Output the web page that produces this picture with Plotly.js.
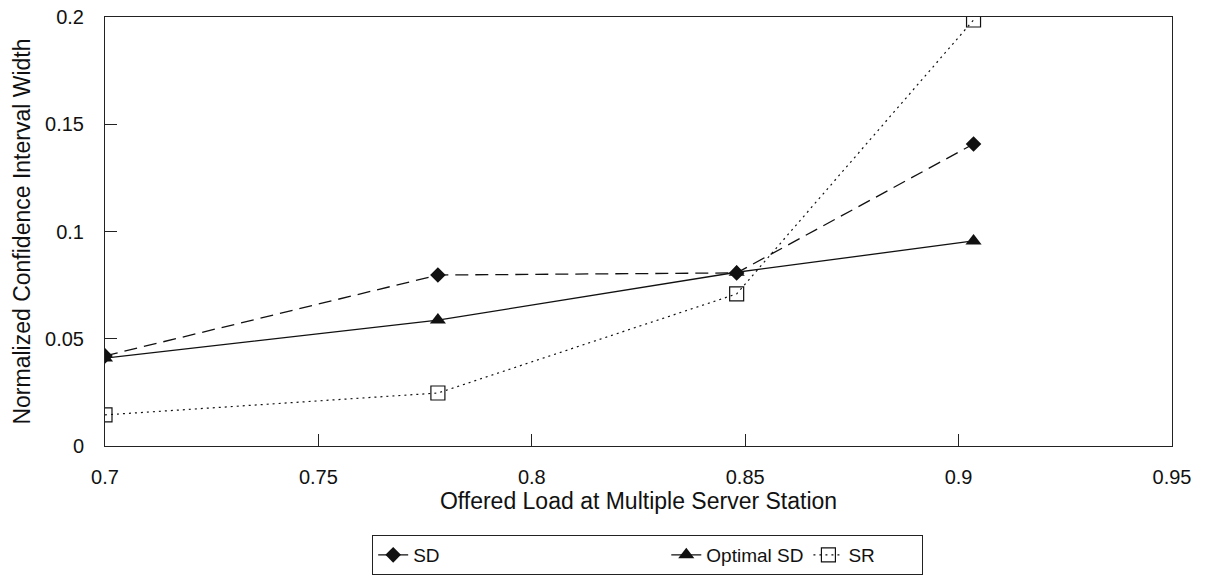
<!DOCTYPE html>
<html>
<head>
<meta charset="utf-8">
<script src="https://cdn.plot.ly/plotly-3.0.1.min.js"></script>
<style>html,body{margin:0;padding:0;background:#fff;}#chart{width:1205px;height:582px;}</style>
</head>
<body>
<div id="chart"></div>
<script>
const offeredLoad = [0.7, 0.778, 0.848, 0.9035];
const sdValues = [0.042, 0.0797, 0.0807, 0.1408];
const optimalSdValues = [0.041, 0.0587, 0.081, 0.0956];
const srValues = [0.0145, 0.0247, 0.0709, 0.1986];
const seriesNames = ["SD", "Optimal SD", "SR"];
const xTicks = [0.7, 0.75, 0.8, 0.85, 0.9, 0.95];
const yTicks = [0, 0.05, 0.1, 0.15, 0.2];

const traces = [
  {x: offeredLoad, y: sdValues, name: seriesNames[0] + "\u00a0".repeat(42), mode: "lines+markers",
   line: {color: "#111", width: 1.3, dash: "13px,7px"},
   marker: {symbol: "diamond", size: 12, color: "#111"}},
  {x: offeredLoad, y: optimalSdValues, name: seriesNames[1], mode: "lines+markers",
   line: {color: "#111", width: 1.3},
   marker: {symbol: "triangle-up", size: 14, color: "#111"}},
  {x: offeredLoad, y: srValues, name: seriesNames[2] + "\u00a0".repeat(8), mode: "lines+markers",
   line: {color: "#111", width: 1.2, dash: "2px,4px"},
   marker: {symbol: "square-open", size: 14, color: "#111", line: {width: 1.2, color: "#111"}}}
];

const layout = {
  width: 1205, height: 582,
  margin: {l: 105, r: 33, t: 17, b: 136, autoexpand: false},
  paper_bgcolor: "#fff", plot_bgcolor: "#fff",
  font: {family: "Liberation Sans, Arial, sans-serif", color: "#111", size: 20},
  showlegend: true,
  legend: {orientation: "h", x: 0.2504, xanchor: "left", y: -0.2075, yanchor: "top",
           bordercolor: "#222", borderwidth: 1, bgcolor: "#fff",
           font: {size: 19}, itemwidth: 30, tracegroupgap: 0},
  xaxis: {range: [0.7, 0.95], tickvals: xTicks, ticks: "inside", ticklen: 12, tickcolor: "#222",
          showline: true, linecolor: "#222", linewidth: 1, mirror: true, showgrid: false, zeroline: false,
          ticklabelstandoff: 13, tickfont: {size: 20},
          title: {text: "Offered Load at Multiple Server Station", font: {size: 23}, standoff: 4}},
  yaxis: {range: [0, 0.2], tickvals: yTicks, ticks: "inside", ticklen: 12, tickcolor: "#222",
          showline: true, linecolor: "#222", linewidth: 1, mirror: true, showgrid: false, zeroline: false,
          ticklabelstandoff: 16, tickfont: {size: 20},
          title: {text: "Normalized Confidence Interval Width", font: {size: 23}, standoff: 8}}
};

Plotly.newPlot("chart", traces, layout, {displayModeBar: false, staticPlot: true});
</script>
</body>
</html>
